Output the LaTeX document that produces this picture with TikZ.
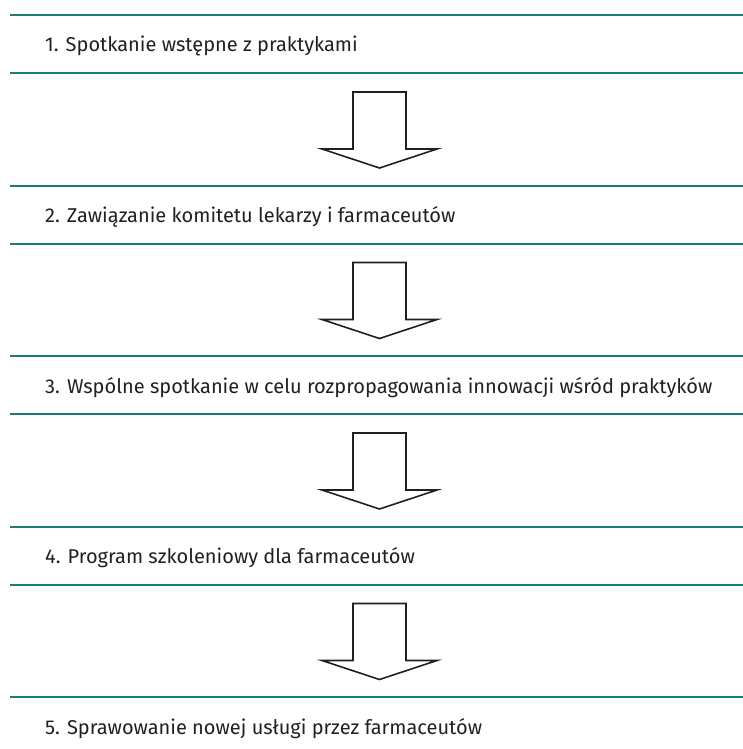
\documentclass[tikz,border=0pt]{standalone}
\usepackage{fontspec}
\setmainfont{Fira Sans}
\usepackage{tikz}
\definecolor{rulecol}{HTML}{1B7B77}
\definecolor{textcol}{HTML}{231F20}
\tikzset{
  rule/.style={rulecol, line width=2pt},
  flowarrow/.style={textcol, line width=1.6pt, line join=miter},
  steptext/.style={anchor=base west, inner sep=0pt, text=textcol, font=\fontsize{20}{24}\selectfont}
}

\begin{document}
\begin{tikzpicture}[x=1pt, y=-1pt]
\useasboundingbox (0,0) rectangle (743,749);

% rules and arrows between the steps
\foreach \y in {15,185.5,356,526.5} {
  \draw [rule] (10,\y) -- (743,\y);
  \draw [rule] (10,\y+58) -- (743,\y+58);
  \draw [flowarrow] (353,\y+77) -- (353,\y+134) -- (322,\y+134) -- (379.5,\y+153) -- (437,\y+134) -- (406,\y+134) -- (406,\y+77) -- cycle;
}
\draw [rule] (10,697) -- (743,697);

\node [steptext] (step1) at (45,52) {1. Spotkanie wstępne z praktykami};
\node [steptext] (step2) at (45,222.5) {2. Zawiązanie komitetu lekarzy i farmaceutów};
\node [steptext] (step3) at (45,393) {3. Wspólne spotkanie w celu rozpropagowania innowacji wśród praktyków};
\node [steptext] (step4) at (45,563.5) {4. Program szkoleniowy dla farmaceutów};
\node [steptext] (step5) at (45,734) {5. Sprawowanie nowej usługi przez farmaceutów};

\end{tikzpicture}
\end{document}
